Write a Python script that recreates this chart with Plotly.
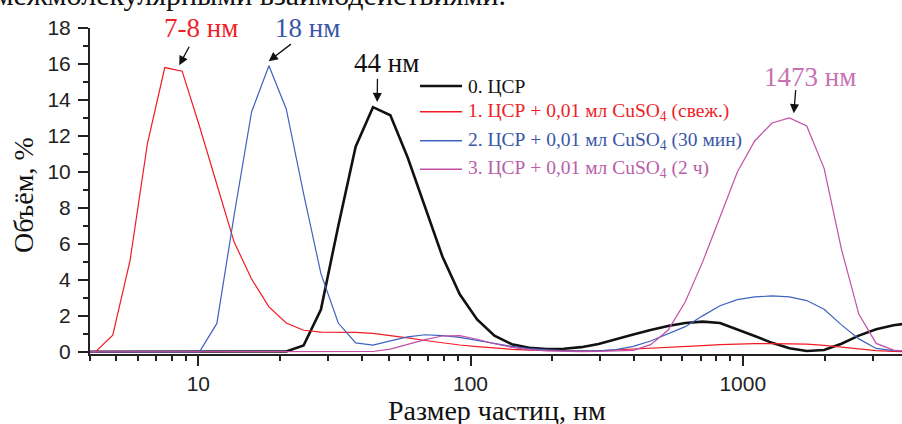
import math
import plotly.graph_objects as go

# Particle size bins (nm)
size_nm = [3.615, 4.187, 4.849, 5.615, 6.503, 7.531, 8.721, 10.10, 11.70, 13.54,
           15.69, 18.17, 21.04, 24.36, 28.21, 32.67, 37.84, 43.82, 50.75, 58.77,
           68.06, 78.82, 91.28, 105.7, 122.4, 141.8, 164.2, 190.1, 220.2, 255.0,
           295.3, 342.0, 396.1, 458.7, 531.2, 615.1, 712.4, 825.0, 955.4, 1106,
           1281, 1484, 1718, 1990, 2305, 2669, 3091, 3580, 4145]

vol_0 = [0, 0, 0, 0, 0, 0, 0, 0, 0, 0,
         0, 0, 0.02, 0.35, 2.35, 7.0, 11.4, 13.6, 13.15, 10.8,
         8.0, 5.3, 3.2, 1.8, 0.9, 0.42, 0.22, 0.15, 0.17, 0.26,
         0.44, 0.68, 0.96, 1.22, 1.44, 1.6, 1.68, 1.6, 1.25, 0.88,
         0.5, 0.2, 0.05, 0.1, 0.45, 0.9, 1.25, 1.48, 1.6]

vol_1 = [0, 0, 0.93, 5.09, 11.58, 15.8, 15.6, 12.54, 9.3, 6.1,
         4.05, 2.5, 1.6, 1.2, 1.1, 1.1, 1.08, 1.03, 0.92, 0.78,
         0.63, 0.49, 0.38, 0.29, 0.2, 0.14, 0.1, 0.07, 0.05, 0.05,
         0.06, 0.1, 0.14, 0.18, 0.23, 0.28, 0.34, 0.4, 0.44, 0.46,
         0.46, 0.45, 0.43, 0.36, 0.26, 0.15, 0.07, 0.03, 0.0]

vol_2 = [0, 0, 0, 0, 0, 0, 0, 0, 1.58, 7.6,
         13.33, 15.9, 13.5, 8.8, 4.35, 1.6, 0.5, 0.37, 0.61, 0.83,
         0.95, 0.9, 0.8, 0.63, 0.47, 0.3, 0.18, 0.1, 0.06, 0.05,
         0.06, 0.12, 0.3, 0.6, 0.98, 1.4, 2.0, 2.56, 2.9, 3.05,
         3.11, 3.05, 2.85, 2.37, 1.5, 0.72, 0.19, 0.07, 0.05]

vol_3 = [0, 0, 0, 0, 0, 0, 0, 0, 0, 0,
         0, 0, 0, 0, 0, 0, 0, 0.02, 0.15, 0.4,
         0.68, 0.88, 0.9, 0.7, 0.45, 0.25, 0.12, 0.05, 0.02, 0.01,
         0.02, 0.04, 0.08, 0.4, 1.2, 2.78, 5.0, 7.5, 10.0, 11.72,
         12.72, 13.0, 12.55, 10.2, 5.7, 2.1, 0.47, 0.1, 0.02]

series_names = ["0. ЦСР",
                "1. ЦСР + 0,01 мл CuSO<sub>4</sub> (свеж.)",
                "2. ЦСР + 0,01 мл CuSO<sub>4</sub> (30 мин)",
                "3. ЦСР + 0,01 мл CuSO<sub>4</sub> (2 ч)"]
line_colors = ["#111111", "#f21b24", "#3f62bf", "#c24fa8"]
text_colors = ["#111111", "#ee2228", "#3a56a6", "#b95ea9"]
line_widths = [2.6, 1.2, 1.2, 1.2]

x_ticks = [10, 100, 1000]
x_minor = [4, 5, 6, 7, 8, 9, 20, 30, 40, 50, 60, 70, 80, 90,
           200, 300, 400, 500, 600, 700, 800, 900, 2000, 3000]
y_ticks = [0, 2, 4, 6, 8, 10, 12, 14, 16, 18]

peak_labels = ["7-8 нм", "18 нм", "44 нм", "1473 нм"]
peak_label_x = [10.26, 25.27, 49.3, 1762]
peak_label_y = [17.98, 17.98, 16.07, 15.28]
peak_tip_x = [8.51, 18.14, 45.4, 1540]
peak_tip_y = [15.93, 16.15, 13.89, 13.26]
peak_colors = ["#ee2228", "#3a56a6", "#111111", "#c872b4"]

fig = go.Figure()
for vals, name, col, w in zip([vol_0, vol_1, vol_2, vol_3], series_names, line_colors, line_widths):
    fig.add_trace(go.Scatter(x=size_nm, y=vals, mode="lines", name=name,
                             line=dict(color=col, width=w), showlegend=False))

W, H = 902, 424
L, R, T, B = 90, 0, 28, 70
pw, ph = W - L - R, H - T - B

def px_x(p):
    return (p - L) / pw

def px_y(p):
    return (H - B - p) / ph

SERIF = "Liberation Serif, Times New Roman, serif"
annotations = []
# peak labels and arrows (log axis: annotation x is given in log10 units)
for txt, lx, ly, tx, ty, c, (ax, ay) in zip(peak_labels, peak_label_x, peak_label_y,
                                           peak_tip_x, peak_tip_y, peak_colors,
                                           [(10.7, -20), (23.7, -18.3), (0.3, -24.7), (2, -24.7)]):
    annotations.append(dict(x=math.log10(lx), y=ly, xref="x", yref="y", text=txt, showarrow=False,
                            xanchor="center", yanchor="middle",
                            font=dict(family=SERIF, size=27, color=c)))
    annotations.append(dict(x=math.log10(tx), y=ty, xref="x", yref="y", text="", showarrow=True,
                            ax=ax, ay=ay, arrowhead=2, arrowsize=1.4, arrowwidth=1.3,
                            arrowcolor="#111111", standoff=0, startstandoff=0))

# legend (manual)
leg_y = [86, 111.7, 140.7, 169.3]
shapes = []
for yy, name, lc, tc, w in zip(leg_y, series_names, line_colors, text_colors, line_widths):
    shapes.append(dict(type="line", xref="paper", yref="paper",
                       x0=px_x(420), x1=px_x(462), y0=px_y(yy), y1=px_y(yy),
                       line=dict(color=lc, width=w if w > 2 else 1.4)))
    annotations.append(dict(x=px_x(466), y=px_y(yy), xref="paper", yref="paper",
                            text=name, showarrow=False, xanchor="left", yanchor="middle",
                            font=dict(family=SERIF, size=19.5, color=tc)))

# axis titles
annotations.append(dict(x=px_x(497), y=px_y(410.5), xref="paper", yref="paper",
                        text="Размер частиц, нм", showarrow=False, xanchor="center", yanchor="middle",
                        font=dict(family=SERIF, size=28, color="#111111")))
annotations.append(dict(x=px_x(24), y=px_y(195), xref="paper", yref="paper",
                        text="Объём, %", showarrow=False, textangle=-90, xanchor="center", yanchor="middle",
                        font=dict(family=SERIF, size=28, color="#111111")))
# cropped page text above the chart
annotations.append(dict(x=px_x(508), y=px_y(13), xref="paper", yref="paper",
                        text="и межмолекулярными взаимодействиями.", showarrow=False,
                        xanchor="right", yanchor="bottom",
                        font=dict(family=SERIF, size=30, color="#111111")))

tick_font = dict(family="Liberation Sans, Arial, sans-serif", size=21, color="#222222")
fig.update_layout(
    width=W, height=H,
    margin=dict(l=L, r=R, t=T, b=B, pad=0),
    paper_bgcolor="white", plot_bgcolor="white",
    showlegend=False,
    annotations=annotations, shapes=shapes,
    xaxis=dict(type="log", range=[0.6021, 3.585], tickmode="array", tickvals=x_ticks,
               ticktext=[str(v) for v in x_ticks],
               showgrid=False, zeroline=False, showline=True, linecolor="#222222", linewidth=2,
               ticks="outside", ticklen=10, tickwidth=2, tickcolor="#222222",
               minor=dict(tickmode="array", tickvals=x_minor, ticks="outside", ticklen=5,
                          tickwidth=1.5, tickcolor="#222222", showgrid=False),
               tickfont=tick_font),
    yaxis=dict(range=[-0.12, 18], tickmode="array", tickvals=y_ticks,
               showgrid=False, zeroline=False, showline=True, linecolor="#222222", linewidth=2,
               ticks="outside", ticklen=10, tickwidth=2, tickcolor="#222222",
               ticklabelstandoff=3,
               minor=dict(dtick=1, ticks="outside", ticklen=5, tickwidth=1.5,
                          tickcolor="#222222", showgrid=False),
               tickfont=tick_font),
)

fig.write_html("out.html", config={"displayModeBar": False},
               post_script="document.body.style.margin='0px';")
